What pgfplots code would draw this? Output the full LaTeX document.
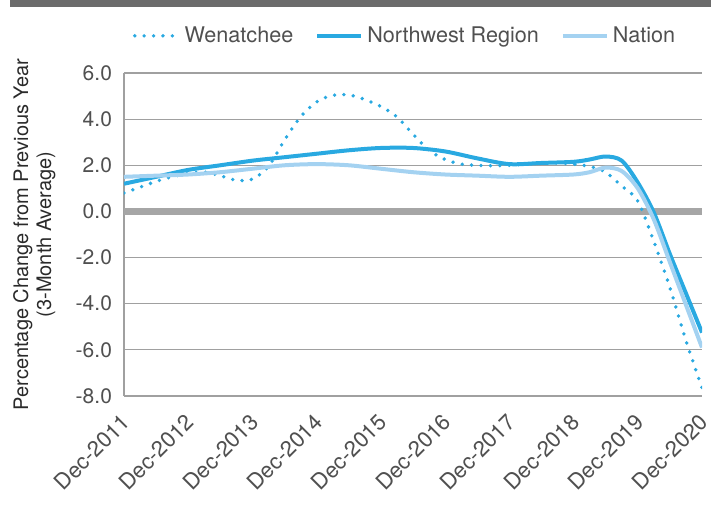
\documentclass[border=0pt]{standalone}
\usepackage{pgfplots}
\pgfplotsset{compat=1.18}
\usepackage{fontspec}
\setmainfont{TeX Gyre Heros}
\definecolor{nw}{HTML}{29A9E1}
\definecolor{nat}{HTML}{A4D2F1}
\definecolor{zero}{HTML}{A6A6A6}
\definecolor{bar}{HTML}{6B6B6B}
\definecolor{txt}{HTML}{2A2A2A}
\definecolor{tick}{HTML}{505050}
\definecolor{grid}{HTML}{A0A0A0}
\begin{document}
\begin{tikzpicture}
\useasboundingbox (-62pt,-58pt) rectangle (293.5pt,198pt);
\fill[bar] (-57pt,198pt) rectangle (293.5pt,194.5pt);
\begin{axis}[
  at={(0,0)}, anchor=south west,
  scale only axis, width=289pt, height=161.5pt,
  xmin=0, xmax=9, ymin=-8, ymax=6,
  xtick={0,...,9},
  xticklabels={Dec-2011,Dec-2012,Dec-2013,Dec-2014,Dec-2015,Dec-2016,Dec-2017,Dec-2018,Dec-2019,Dec-2020},
  ytick={-8,-6,...,6},
  axis x line=bottom, axis y line=left,
  axis line style={draw=grid, line width=0.6pt, -},
  major tick length=0pt,
  ymajorgrids, grid style={draw=grid, line width=0.6pt},
  /pgf/number format/assume math mode=true,
  yticklabel={\pgfmathprintnumber[fixed,fixed zerofill,precision=1]{\tick}},
  tick label style={text=tick},
  yticklabel style={font=\fontsize{10.5}{12}\selectfont, xshift=-2.5pt},
  xticklabel style={font=\fontsize{11}{12}\selectfont, xshift=-2pt, yshift=-8pt, rotate=45, anchor=north east, inner sep=0pt},
  ylabel={Percentage Change from Previous Year\\(3-Month Average)},
  ylabel style={align=center, at={(axis description cs:-0.155,0.5)}, anchor=center, font=\fontsize{10}{11.5}\selectfont, text=txt},
  legend style={at={(0.488,1.115)}, anchor=center, draw=none, fill=none, legend columns=3,
    font=\fontsize{10.8}{12}\selectfont, text=tick,
    /tikz/every even column/.append style={column sep=9pt}},
  legend image code/.code={\draw[#1] (0pt,0pt) -- (22pt,0pt);},
]
\addplot[forget plot, zero, line width=3.5pt] coordinates {(0,0) (9,0)};
\addplot[nw, line width=1.9pt, line cap=round, dash pattern=on 0pt off 4.7pt, smooth, tension=0.5] table {
0 0.8
0.25 1.05
0.5 1.3
0.75 1.5
1 1.65
1.25 1.7
1.5 1.55
1.75 1.35
2 1.4
2.25 1.95
2.5 3.1
2.75 4.1
3 4.75
3.25 5.03
3.5 5.05
3.75 4.85
4 4.55
4.25 4.1
4.5 3.35
4.75 2.65
5 2.25
5.25 2.05
5.5 2.0
5.75 1.98
6 2.0
6.25 2.05
6.5 2.1
6.75 2.1
7 2.05
7.25 1.95
7.5 1.7
7.75 1.1
8 0.45
8.25 -1.3
8.5 -3.3
8.75 -5.6
9 -7.65
};
\addlegendentry{Wenatchee}
\addplot[nw, line width=2pt, smooth, tension=0.5] table {
0 1.2
0.5 1.5
1 1.8
1.5 2.0
2 2.2
2.5 2.35
3 2.5
3.5 2.65
4 2.75
4.5 2.75
5 2.6
5.5 2.3
6 2.05
6.5 2.1
7 2.15
7.25 2.25
7.5 2.38
7.75 2.2
8 1.25
8.25 -0.05
8.5 -1.85
8.75 -3.55
9 -5.25
};
\addlegendentry{Northwest Region}
\addplot[nat, line width=2pt, smooth, tension=0.5] table {
0 1.5
0.5 1.55
1 1.6
1.5 1.7
2 1.85
2.5 2.0
3 2.05
3.5 2.0
4 1.85
4.5 1.7
5 1.6
5.5 1.55
6 1.5
6.5 1.55
7 1.6
7.25 1.7
7.5 1.9
7.75 1.75
8 1.0
8.25 -0.35
8.5 -2.2
8.75 -4.05
9 -5.9
};
\addlegendentry{Nation}
\end{axis}
\end{tikzpicture}
\end{document}
